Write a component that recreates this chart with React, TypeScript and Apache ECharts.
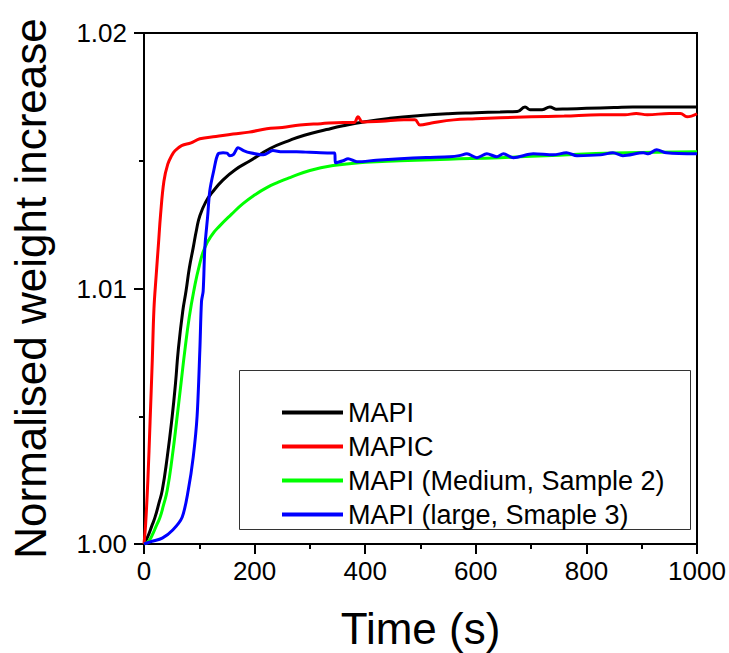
import React, { useEffect, useRef } from "react";
import * as echarts from "echarts";

// Sorption curves: [time (s), normalised weight]
const mapi: [number, number][] = [
  [0, 1.0], [7, 1.0003], [14, 1.0007], [20, 1.00105], [27, 1.0016], [33, 1.0021],
  [42, 1.0034], [51, 1.005], [57, 1.0063], [62, 1.0076], [70, 1.0091], [76, 1.0099],
  [82, 1.0108], [89, 1.0116], [95, 1.0123], [101, 1.01285], [112, 1.0134], [123, 1.01375],
  [143, 1.01425], [165, 1.01465], [192, 1.015], [228, 1.01548], [260, 1.01577], [290, 1.016],
  [330, 1.01622], [360, 1.01637], [400, 1.01653], [445, 1.01666], [500, 1.01677],
  [550, 1.01684], [600, 1.01688], [644, 1.01691], [675, 1.01693], [689, 1.0171],
  [698, 1.017], [720, 1.017], [734, 1.0171], [745, 1.01702], [765, 1.01703],
  [800, 1.01705], [850, 1.01708], [884, 1.0171], [950, 1.0171], [1000, 1.0171],
];

const mapic: [number, number][] = [
  [0, 1.0], [3, 1.0008], [7, 1.0025], [11, 1.0048], [15, 1.0072], [18, 1.0092],
  [22, 1.0105], [26, 1.0117], [30, 1.0129], [36, 1.0142], [43, 1.01487], [50, 1.0152],
  [56, 1.01539], [68, 1.01559], [85, 1.0157], [101, 1.01586], [130, 1.01595],
  [161, 1.01605], [190, 1.01612], [222, 1.01625], [250, 1.0163], [282, 1.0164],
  [320, 1.01645], [360, 1.0165], [380, 1.0165], [387, 1.01672], [395, 1.01652],
  [430, 1.01655], [470, 1.0166], [490, 1.0166], [499, 1.0164], [520, 1.01648],
  [560, 1.0166], [600, 1.01664], [644, 1.01668], [700, 1.01672], [760, 1.01675],
  [825, 1.0168], [870, 1.0168], [890, 1.01685], [910, 1.0168], [950, 1.01685],
  [970, 1.01685], [982, 1.01672], [1000, 1.01684],
];

const mapiMedium: [number, number][] = [
  [0, 1.0], [8, 1.0001], [16, 1.0004], [22, 1.0007], [29, 1.00105], [35, 1.0015],
  [42, 1.0021], [51, 1.0034], [60, 1.005], [67, 1.0063], [74, 1.0076], [82, 1.0089],
  [90, 1.0099], [100, 1.0109], [110, 1.0116], [123, 1.0121], [137, 1.01245],
  [158, 1.0129], [179, 1.01332], [200, 1.01366], [222, 1.01395], [243, 1.01416],
  [264, 1.01434], [300, 1.01462], [342, 1.01481], [400, 1.01494], [463, 1.015],
  [550, 1.01506], [644, 1.01512], [750, 1.01522], [850, 1.0153], [1000, 1.01535],
];

const mapiLarge: [number, number][] = [
  [0, 1.0], [14, 1.0001], [33, 1.00023], [52, 1.00055], [69, 1.00105], [80, 1.0021],
  [89, 1.0034], [96, 1.005], [101, 1.0076], [104, 1.0095], [107, 1.0099], [110, 1.0116],
  [115, 1.0128], [119, 1.01383], [126, 1.0146], [134, 1.01527], [143, 1.01531],
  [150, 1.0153], [155, 1.0152], [162, 1.01525], [170, 1.01551], [180, 1.0154],
  [192, 1.01531], [216, 1.01523], [233, 1.0154], [250, 1.01535], [276, 1.01535],
  [300, 1.01533], [336, 1.0153], [345, 1.0153], [346, 1.01492], [360, 1.015],
  [369, 1.01508], [385, 1.01496], [420, 1.01502], [463, 1.01508], [510, 1.01513],
  [553, 1.01516], [570, 1.0152], [584, 1.01527], [602, 1.01512], [620, 1.01527],
  [638, 1.01516], [650, 1.01527], [668, 1.01512], [704, 1.01527], [740, 1.01523],
  [764, 1.01531], [783, 1.0152], [825, 1.01523], [848, 1.01531], [866, 1.0152],
  [903, 1.01531], [912, 1.01527], [927, 1.01543], [945, 1.01531], [1000, 1.01527],
];

const seriesNames = [
  "MAPI",
  "MAPIC",
  "MAPI (Medium, Sample 2)",
  "MAPI (large, Smaple 3)",
];
const seriesData = [mapi, mapic, mapiMedium, mapiLarge];
const seriesColors = ["#000000", "#ff0000", "#00ff00", "#0000ff"];
const seriesSmooth = [0.5, 0.4, 0.5, 0.3];

const FONT = "'Liberation Sans', Arial, sans-serif";

export default function App() {
  const ref = useRef<HTMLDivElement>(null);

  useEffect(() => {
    if (!ref.current) return;
    const chart = echarts.init(ref.current, undefined, { renderer: "svg" });
    chart.setOption({
      animation: false,
      backgroundColor: "#ffffff",
      textStyle: { fontFamily: FONT },
      grid: {
        left: 144,
        top: 33,
        right: 32,
        bottom: 109,
        show: true,
        borderColor: "#000",
        borderWidth: 2,
        outerBoundsMode: "none",
      },
      xAxis: {
        type: "value",
        min: 0,
        max: 1000,
        interval: 200,
        name: "Time (s)",
        nameLocation: "middle",
        nameGap: 62,
        nameTextStyle: { fontSize: 44, color: "#000", fontFamily: FONT },
        axisLine: { show: true, onZero: false, lineStyle: { color: "#000", width: 2 } },
        axisTick: { show: true, length: 10, lineStyle: { color: "#000", width: 2 } },
        minorTick: { show: true, splitNumber: 2, length: 5, lineStyle: { color: "#000", width: 2 } },
        splitLine: { show: false },
        axisLabel: {
          fontSize: 26,
          color: "#000",
          margin: 14,
          fontFamily: FONT,
          formatter: (v: number) => String(Math.round(v)),
        },
      },
      yAxis: {
        type: "value",
        min: 1.0,
        max: 1.02,
        interval: 0.01,
        name: "Normalised weight increase",
        nameLocation: "middle",
        nameGap: 92,
        nameTextStyle: { fontSize: 44, color: "#000", fontFamily: FONT },
        axisLine: { show: true, onZero: false, lineStyle: { color: "#000", width: 2 } },
        axisTick: { show: true, length: 10, lineStyle: { color: "#000", width: 2 } },
        minorTick: { show: true, splitNumber: 2, length: 5, lineStyle: { color: "#000", width: 2 } },
        splitLine: { show: false },
        axisLabel: {
          fontSize: 26,
          color: "#000",
          margin: 17,
          fontFamily: FONT,
          formatter: (v: number) => v.toFixed(2),
        },
      },
      legend: {
        data: seriesNames,
        orient: "vertical",
        left: 282,
        top: 399,
        padding: 0,
        itemGap: 7,
        itemWidth: 61,
        itemHeight: 4,
        itemTextGap: 9,
        icon: "rect",
        textStyle: { fontSize: 27, color: "#000", lineHeight: 27, fontFamily: FONT },
      },
      graphic: [
        {
          type: "rect",
          left: 239,
          top: 370,
          shape: { width: 451, height: 159 },
          style: { fill: "transparent", stroke: "#333", lineWidth: 1 },
          silent: true,
          z: 1,
        },
      ],
      series: seriesData.map((d, i) => ({
        type: "line",
        name: seriesNames[i],
        data: d,
        showSymbol: false,
        symbol: "none",
        smooth: seriesSmooth[i],
        color: seriesColors[i],
        lineStyle: { color: seriesColors[i], width: 3 },
        z: 2 + i,
      })),
    });
    return () => chart.dispose();
  }, []);

  return (
    <div
      ref={ref}
      style={{ position: "fixed", left: 0, top: 0, width: 729, height: 653 }}
    />
  );
}
